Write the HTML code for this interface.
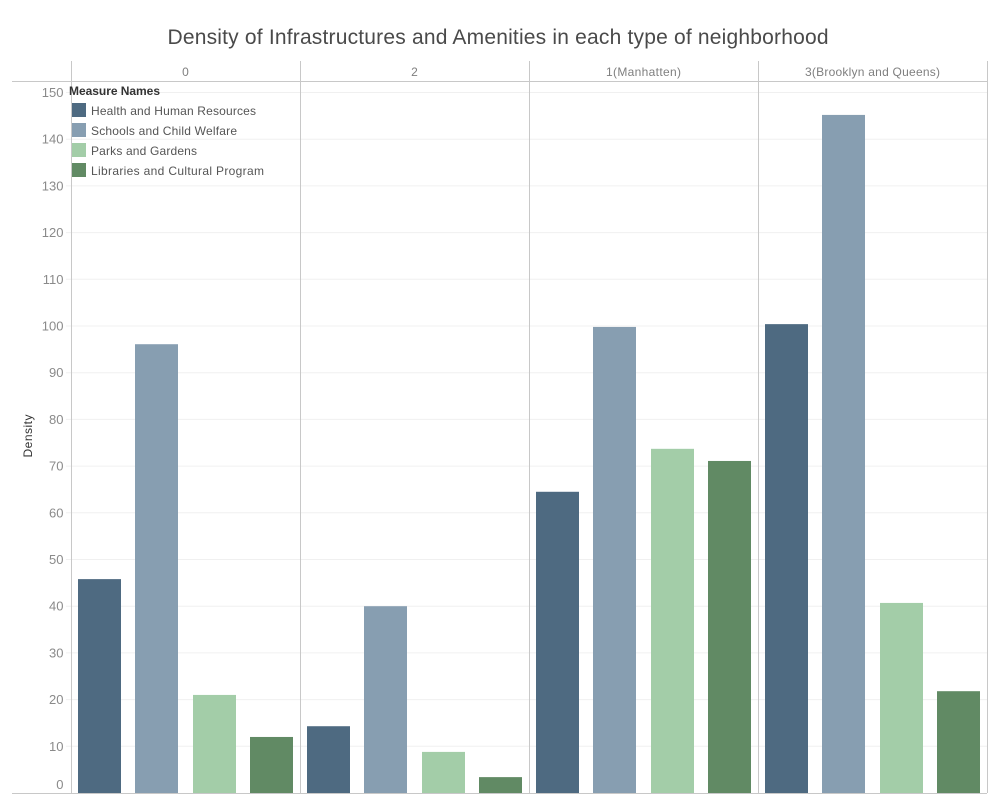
<!DOCTYPE html>
<html>
<head>
<meta charset="utf-8">
<title>Density of Infrastructures and Amenities</title>
<style>
html,body{margin:0;padding:0;background:#fff;width:1007px;height:807px;overflow:hidden}
svg{display:block;font-family:"Liberation Sans",sans-serif}
</style>
</head>
<body>
<svg id="chart" xmlns="http://www.w3.org/2000/svg" width="1007" height="807" viewBox="0 0 1007 807">
  <text x="498" y="44" text-anchor="middle" font-size="21" fill="#4a4a4a" textLength="661" lengthAdjust="spacing">Density of Infrastructures and Amenities in each type of neighborhood</text>
  <text transform="translate(32,436) rotate(-90)" text-anchor="middle" font-size="12" fill="#333" textLength="43">Density</text>
  <g id="grid"></g>
  <g id="bars"></g>
  <g id="frame"></g>
  <g id="ticks"></g>
  <g id="headers"></g>
  <g id="legend">
    <text x="69" y="95" font-size="12" font-weight="bold" fill="#333" textLength="91">Measure Names</text>
  </g>
</svg>
<script>
const panels = ['0', '2', '1(Manhatten)', '3(Brooklyn and Queens)'];
const measures = ['Health and Human Resources', 'Schools and Child Welfare', 'Parks and Gardens', 'Libraries and Cultural Program'];
const healthValues = [45.8, 14.3, 64.5, 100.4];
const schoolValues = [96.1, 40.0, 99.8, 145.2];
const parkValues = [21.0, 8.8, 73.7, 40.7];
const libraryValues = [12.0, 3.4, 71.1, 21.8];
const tickValues = [0, 10, 20, 30, 40, 50, 60, 70, 80, 90, 100, 110, 120, 130, 140, 150];

const seriesColors = ['#4e6a81', '#879eb1', '#a3cda8', '#618a64'];
const allSeries = [healthValues, schoolValues, parkValues, libraryValues];
const legendWidths = [165, 146, 106, 173];
const headerWidths = [6, 6, 75, 135];
const NS = 'http://www.w3.org/2000/svg';
const plotLeft = 71, panelWidth = 229, baseY = 793, pxPerUnit = 4.67, barWidth = 43;

function y(v) { return baseY - v * pxPerUnit; }
function panelX(i) { return plotLeft + i * panelWidth; }
function barX(p, s) { return Math.round(panelX(p) + 7 + s * 57.25); }
function make(parent, tag, attrs, text) {
  const el = document.createElementNS(NS, tag);
  for (const k in attrs) el.setAttribute(k, attrs[k]);
  if (text !== undefined) el.textContent = text;
  document.getElementById(parent).appendChild(el);
  return el;
}

tickValues.forEach(function (t) {
  if (t > 0) {
    const g = make('grid', 'line', {x1: 66, x2: 987, y1: y(t), y2: y(t), stroke: '#f0f0f0', 'stroke-width': 1});
    
    
  }
  const label = make('ticks', 'text', {x: 63.5, y: Math.min(y(t) + 4.5, 789), 'text-anchor': 'end', 'font-size': 13, fill: '#8a8a8a'}, String(t));
  
  
});

allSeries.forEach(function (vals, s) {
  vals.forEach(function (v, p) {
    const r = make('bars', 'rect', {x: barX(p, s), y: y(v), width: barWidth, height: baseY - y(v), fill: seriesColors[s]});
    
    
  });
});

for (let i = 0; i <= panels.length; i++) {
  const d = make('frame', 'line', {x1: panelX(i) + 0.5, x2: panelX(i) + 0.5, y1: 61, y2: 793, stroke: '#c8c8c8', 'stroke-width': 1});
  
  
}
const topRule = make('frame', 'line', {x1: 12, x2: 987, y1: 81.5, y2: 81.5, stroke: '#c8c8c8', 'stroke-width': 1});


const baseRule = make('frame', 'line', {x1: 12, x2: 987, y1: 793.5, y2: 793.5, stroke: '#c8c8c8', 'stroke-width': 1});



panels.forEach(function (name, i) {
  const h = make('headers', 'text', {x: panelX(i) + panelWidth / 2, y: 76, 'text-anchor': 'middle', 'font-size': 12, fill: '#7f7f7f', textLength: headerWidths[i]}, name);
  
  
});

measures.forEach(function (name, i) {
  const sw = make('legend', 'rect', {x: 72, y: 103 + i * 20, width: 14, height: 14, fill: seriesColors[i]});
  
  
  const t = make('legend', 'text', {x: 91, y: 115 + i * 20, 'font-size': 12, fill: '#555', textLength: legendWidths[i]}, name);
  
  
});
</script>
</body>
</html>
